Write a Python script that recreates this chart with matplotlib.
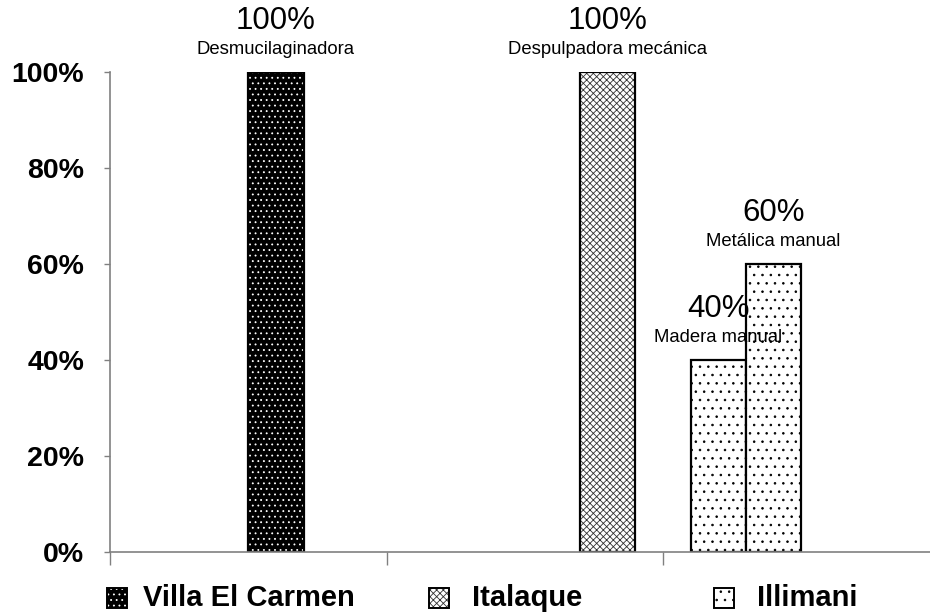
'''Bar chart: type of pulping equipment by community.'''
import matplotlib
matplotlib.use("Agg")
import matplotlib.pyplot as plt
from matplotlib.patches import Rectangle

plt.rcParams['font.family'] = ['Liberation Sans', 'DejaVu Sans']
plt.rcParams['hatch.linewidth'] = 0.6

# Data
communities = ['Villa El Carmen', 'Italaque', 'Illimani']
bar_community = [0, 1, 2, 2]
bar_types = ['Desmucilaginadora', 'Despulpadora mecánica', 'Madera manual', 'Metálica manual']
bar_values = [100, 100, 40, 60]
y_ticks = [0, 20, 40, 60, 80, 100]

# Style per community: (face, hatch colour, hatch)
styles = [('black', 'white', '...'), ('white', '#333333', 'xxxxx'), ('white', 'black', '..')]
bar_offsets = [0.5, 0.7, 0.1, 0.3]
BAR_W = 0.2

fig = plt.figure(figsize=(9.3, 6.15), dpi=100)
ax = fig.add_axes([110 / 930, 63 / 615, 829.5 / 930, 480 / 615])

for i, val in enumerate(bar_values):
    c = bar_community[i]
    face, hcol, hatch = styles[c]
    x0 = c + bar_offsets[i]
    ax.bar(x0, val, BAR_W, align='edge', color=face, edgecolor=hcol, hatch=hatch, linewidth=0)
    ax.bar(x0, val, BAR_W, align='edge', fill=False, edgecolor='black', linewidth=1.6)
    xc = x0 + BAR_W / 2
    ax.annotate(f'{val}%', (xc, val), xytext=(0, 36.5), textcoords='offset points',
                ha='center', va='center', fontsize=22.5, annotation_clip=False)
    ax.annotate(bar_types[i], (xc, val), xytext=(0, 16.5), textcoords='offset points',
                ha='center', va='center', fontsize=13.3, annotation_clip=False)

ax.set_xlim(0, 3)
ax.set_ylim(0, 100)
ax.set_xticks([0, 1, 2, 3])
ax.set_xticklabels([])
ax.set_yticks(y_ticks)
ax.set_yticklabels([f'{t}%' for t in y_ticks], fontsize=20.5, fontweight='bold')
ax.tick_params(axis='y', length=4.5, width=1, color='#808080', pad=14)
ax.tick_params(axis='x', length=9, width=1, color='#808080')
for s in ['top', 'right']:
    ax.spines[s].set_visible(False)
for s in ['left', 'bottom']:
    ax.spines[s].set_color('#808080')
    ax.spines[s].set_linewidth(1.2)

# Legend drawn by hand to match spacing
leg_sq = [107, 429, 714]
leg_tx = [143, 472, 757]
for c, name in enumerate(communities):
    face, hcol, hatch = styles[c]
    fig.add_artist(Rectangle((leg_sq[c] / 930, 1 - 608 / 615), 20 / 930, 20 / 615,
                             transform=fig.transFigure, facecolor=face, edgecolor=hcol,
                             hatch=hatch, linewidth=0))
    fig.add_artist(Rectangle((leg_sq[c] / 930, 1 - 608 / 615), 20 / 930, 20 / 615,
                             transform=fig.transFigure, fill=False, edgecolor='black',
                             linewidth=1.4))
    fig.text(leg_tx[c] / 930, 1 - 598 / 615, name, fontsize=21, fontweight='bold',
             ha='left', va='center')

plt.savefig('out.png', dpi=100)
plt.close()
